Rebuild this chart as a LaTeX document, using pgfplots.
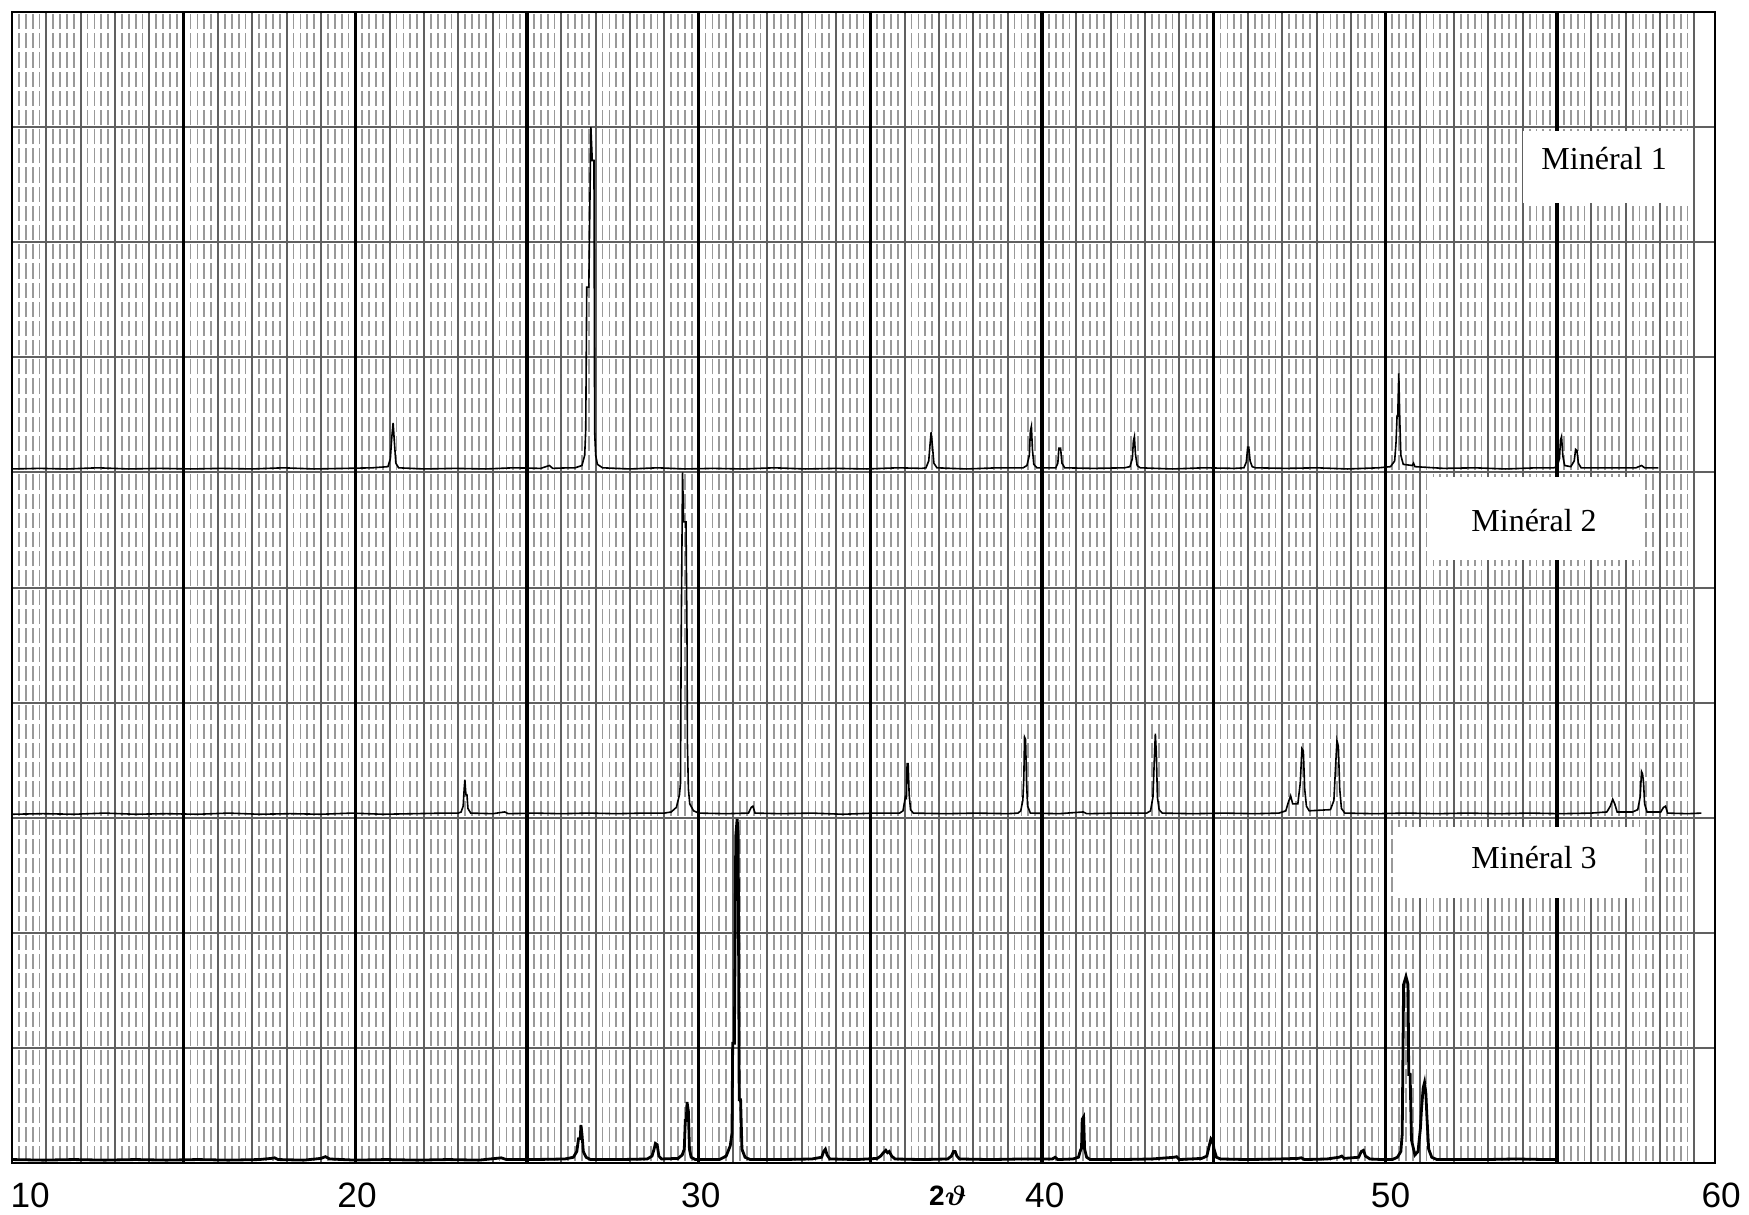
\documentclass[border=0pt]{standalone}
\usepackage{amsmath}
\usepackage{pgfplots}
\pgfplotsset{compat=1.18}
\usepackage{fontspec}
\setmainfont{Liberation Serif}
\newfontfamily\arial{Liberation Sans}

\begin{document}
\begin{tikzpicture}
\useasboundingbox (-3pt,-12.75pt) rectangle (434.25pt,290.75pt);
\begin{axis}[
    at={(0,0)}, anchor=south west,
    scale only axis,
    width=425.75pt, height=287.75pt,
    xmin=10, xmax=59.6, ymin=0, ymax=10,
    clip=false,
    axis line style={black, line width=0.6pt},
    xtick={10,...,59},
    xticklabels={},
    minor x tick num=4,
    ytick={0,...,10},
    yticklabels={},
    major tick length=0pt, minor tick length=0pt,
    xmajorgrids, xminorgrids, ymajorgrids,
    major grid style={gray!75!black, line width=0.5pt},
    minor grid style={gray!80, line width=0.45pt,
        dash pattern=on 3.7958pt off 1pt, dash phase=4.2958pt},
    extra x ticks={15,20,...,55},
    extra x tick labels={},
    extra x tick style={grid=major, major grid style={black, line width=0.8pt}},
    cycle list={{black, mark=none, line width=0.7pt, line join=round}},
]
% Minéral 1
\addplot coordinates {
(10,6.03)(10.8,6.035)(11.6,6.03)(12.5,6.04)(13.4,6.03)(14.3,6.035)(15.2,6.03)(16.1,6.035)(17.0,6.03)(17.9,6.04)(18.8,6.03)(19.7,6.035)(20.5,6.04)
(20.95,6.05)(21.02,6.12)(21.06,6.30)(21.10,6.43)(21.14,6.25)(21.18,6.08)(21.26,6.04)
(22.0,6.03)(22.9,6.035)(23.8,6.03)(24.6,6.04)(25.4,6.035)(25.65,6.06)(25.75,6.035)(26.2,6.04)
(26.4,6.04)(26.6,6.06)(26.68,6.15)(26.71,6.37)(26.74,7.61)(26.80,7.61)(26.86,9.0)(26.90,8.71)(26.95,8.71)(26.97,6.35)(27.0,6.15)(27.05,6.07)(27.2,6.04)
(28.0,6.03)(28.8,6.04)(29.6,6.03)(30.4,6.035)(31.3,6.03)(32.2,6.04)(33.1,6.03)(34.0,6.035)(34.9,6.03)(35.8,6.04)(36.5,6.035)
(36.62,6.04)(36.70,6.10)(36.74,6.25)(36.77,6.35)(36.81,6.22)(36.85,6.08)(36.94,6.04)
(37.8,6.03)(38.7,6.04)(39.45,6.04)
(39.56,6.06)(39.63,6.15)(39.66,6.36)(39.69,6.40)(39.72,6.20)(39.76,6.07)(39.85,6.04)
(40.40,6.04)(40.46,6.08)(40.49,6.21)(40.54,6.21)(40.58,6.08)(40.66,6.04)
(41.5,6.035)(42.4,6.04)
(42.56,6.05)(42.63,6.12)(42.66,6.27)(42.69,6.31)(42.72,6.16)(42.77,6.06)(42.86,6.04)
(43.8,6.03)(44.7,6.04)(45.6,6.035)
(45.88,6.04)(45.95,6.09)(45.99,6.22)(46.02,6.22)(46.06,6.10)(46.12,6.05)(46.22,6.04)
(47.1,6.035)(48.0,6.04)(48.9,6.03)(49.8,6.04)
(50.15,6.05)(50.27,6.10)(50.31,6.26)(50.34,6.49)(50.36,6.49)(50.39,6.86)(50.42,6.45)(50.45,6.15)(50.52,6.07)(50.78,6.06)(50.82,6.08)(50.86,6.05)
(51.7,6.035)(52.6,6.04)(53.5,6.03)(54.4,6.04)(54.9,6.04)
(55.00,6.05)(55.07,6.12)(55.10,6.28)(55.13,6.31)(55.17,6.14)(55.22,6.06)
(55.40,6.05)(55.50,6.10)(55.54,6.20)(55.58,6.19)(55.62,6.08)(55.70,6.04)
(56.5,6.04)(57.3,6.04)(57.46,6.06)(57.55,6.04)(57.95,6.04)
};
% Minéral 2
\addplot coordinates {
(10,3.03)(10.9,3.035)(11.8,3.03)(12.7,3.04)(13.6,3.03)(14.5,3.035)(15.4,3.03)(16.3,3.04)(17.2,3.03)(18.1,3.035)(19.0,3.03)(19.9,3.04)(20.8,3.03)(21.7,3.035)(22.6,3.04)(23.0,3.04)
(23.08,3.05)(23.14,3.10)(23.17,3.25)(23.19,3.33)(23.22,3.20)(23.25,3.20)(23.28,3.08)(23.36,3.04)
(24.0,3.035)(24.35,3.05)(24.45,3.035)(25.2,3.04)(26.0,3.035)(26.8,3.04)(27.6,3.035)(28.4,3.04)
(29.0,3.04)(29.2,3.05)(29.35,3.09)(29.44,3.2)(29.47,3.3)(29.49,4.56)(29.53,6.0)(29.56,5.57)(29.63,5.57)(29.66,4.57)(29.67,3.67)(29.70,3.25)(29.74,3.12)(29.85,3.06)(30.0,3.04)
(30.8,3.035)(31.45,3.04)(31.53,3.09)(31.58,3.10)(31.64,3.04)(32.4,3.035)(33.3,3.04)(34.2,3.03)(35.1,3.04)(35.85,3.04)
(35.95,3.06)(36.02,3.18)(36.05,3.17)(36.07,3.47)(36.10,3.47)(36.13,3.20)(36.17,3.07)(36.25,3.04)
(37.2,3.035)(38.1,3.04)(39.0,3.035)(39.3,3.04)
(39.38,3.06)(39.44,3.15)(39.47,3.35)(39.49,3.70)(39.52,3.68)(39.55,3.30)(39.58,3.10)(39.66,3.04)
(40.5,3.035)(41.2,3.05)(41.3,3.035)(42.2,3.04)(43.05,3.04)
(43.16,3.06)(43.23,3.18)(43.27,3.50)(43.30,3.73)(43.33,3.55)(43.36,3.18)(43.41,3.07)(43.50,3.04)
(44.4,3.035)(45.3,3.04)(46.2,3.035)(46.9,3.04)
(47.10,3.06)(47.18,3.14)(47.24,3.19)(47.30,3.12)(47.45,3.12)(47.52,3.30)(47.57,3.60)(47.61,3.58)(47.65,3.25)(47.70,3.10)(47.78,3.06)
(48.40,3.07)(48.50,3.15)(48.55,3.45)(48.59,3.67)(48.63,3.62)(48.67,3.25)(48.72,3.08)(48.82,3.04)
(49.7,3.035)(50.6,3.04)(51.5,3.035)(52.4,3.04)(53.3,3.035)(54.2,3.04)(55.1,3.035)(56.0,3.04)(56.45,3.05)
(56.55,3.10)(56.62,3.16)(56.68,3.12)(56.75,3.05)(57.2,3.05)
(57.35,3.07)(57.42,3.18)(57.46,3.40)(57.49,3.38)(57.52,3.30)(57.55,3.12)(57.62,3.05)
(58.02,3.05)(58.10,3.09)(58.16,3.10)(58.22,3.04)(58.8,3.035)(59.2,3.04)
};
% Minéral 3
\addplot coordinates {
(10,0.03)(10.9,0.025)(11.8,0.03)(12.7,0.025)(13.6,0.03)(14.5,0.025)(15.4,0.03)(16.3,0.025)(17.2,0.03)(17.55,0.04)(17.65,0.045)(17.75,0.03)(18.5,0.025)(19.0,0.04)(19.13,0.055)(19.25,0.035)(20.0,0.025)(20.9,0.03)(21.8,0.025)(22.7,0.03)(23.6,0.025)(24.1,0.04)(24.25,0.045)(24.4,0.03)(25.2,0.03)(26.1,0.035)
(26.35,0.05)(26.45,0.10)(26.50,0.21)(26.55,0.21)(26.57,0.33)(26.60,0.25)(26.64,0.10)(26.72,0.05)(26.85,0.03)
(27.7,0.03)(28.5,0.035)
(28.64,0.06)(28.70,0.12)(28.74,0.17)(28.79,0.16)(28.84,0.06)(28.92,0.035)
(29.40,0.04)(29.52,0.07)(29.58,0.12)(29.61,0.37)(29.64,0.37)(29.66,0.53)(29.70,0.45)(29.73,0.12)(29.78,0.05)(29.9,0.03)
(30.6,0.03)(30.8,0.06)(30.92,0.15)(30.97,0.26)(30.99,1.04)(31.04,1.04)(31.08,2.84)(31.12,2.99)(31.15,2.84)(31.18,0.55)(31.22,0.55)(31.26,0.12)(31.35,0.05)(31.5,0.03)
(32.4,0.03)(33.3,0.035)
(33.58,0.05)(33.64,0.10)(33.69,0.12)(33.74,0.07)(33.82,0.035)
(34.6,0.03)(35.2,0.04)
(35.30,0.06)(35.38,0.09)(35.45,0.11)(35.50,0.09)(35.55,0.10)(35.62,0.06)(35.72,0.035)
(36.5,0.03)(37.25,0.035)
(37.36,0.06)(37.42,0.10)(37.47,0.10)(37.52,0.06)(37.60,0.035)
(38.5,0.03)(39.4,0.035)(40.3,0.035)(40.38,0.05)(40.46,0.03)(40.9,0.035)
(41.06,0.05)(41.12,0.11)(41.15,0.13)(41.17,0.38)(41.21,0.40)(41.24,0.12)(41.30,0.05)(41.40,0.03)
(42.3,0.03)(43.2,0.035)(43.85,0.05)(43.92,0.055)(44.0,0.03)(44.65,0.04)
(44.80,0.06)(44.87,0.15)(44.92,0.21)(44.97,0.19)(45.01,0.12)(45.08,0.05)(45.20,0.035)
(46.0,0.03)(46.9,0.035)(47.45,0.04)(47.55,0.045)(47.65,0.03)(48.3,0.035)(48.65,0.05)(48.73,0.06)(48.8,0.04)
(49.22,0.05)(49.30,0.10)(49.36,0.11)(49.42,0.06)(49.55,0.035)(49.9,0.03)
(50.2,0.03)(50.35,0.05)(50.45,0.1)(50.49,0.25)(50.53,1.55)(50.60,1.62)(50.66,1.55)(50.68,0.77)(50.72,0.77)(50.76,0.2)(50.86,0.07)(50.95,0.1)(51.02,0.3)(51.05,0.46)(51.10,0.65)(51.14,0.70)(51.18,0.60)(51.21,0.4)(51.26,0.12)(51.35,0.05)(51.5,0.03)
(52.0,0.03)(52.9,0.03)(53.8,0.035)(54.7,0.03)(55.0,0.03)
};
% boxes with the names
\node[fill=white, inner sep=0pt, minimum width=42.5pt, minimum height=18pt] at (axis cs:56.49,8.653) {};
\node[font=\fontsize{8}{9}\selectfont] at (axis cs:56.37,8.73) {Minéral 1};
\node[fill=white, inner sep=0pt, minimum width=53.75pt, minimum height=20.75pt] at (axis cs:54.43,5.60) {};
\node[font=\fontsize{8}{9}\selectfont] at (axis cs:54.33,5.58) {Minéral 2};
\node[fill=white, inner sep=0pt, minimum width=60.5pt, minimum height=17.75pt] at (axis cs:53.9,2.61) {};
\node[font=\fontsize{8}{9}\selectfont] at (axis cs:54.33,2.65) {Minéral 3};
% axis numbers
\begin{scope}[every node/.style={anchor=north, inner sep=0pt, yshift=-4.7pt, font=\arial\fontsize{8.8}{10}\selectfont}]
\node at (axis cs:10.53,0) {10};
\node at (axis cs:20.05,0) {20};
\node at (axis cs:30.06,0) {30};
\node at (axis cs:40.08,0) {40};
\node at (axis cs:50.15,0) {50};
\node at (axis cs:59.78,0) {60};
\node[yshift=-0.8pt, font=\arial\bfseries\fontsize{7}{8}\selectfont] at (axis cs:37.26,0) {2$\boldsymbol{\vartheta}$};
\end{scope}
\end{axis}
\end{tikzpicture}
\end{document}
